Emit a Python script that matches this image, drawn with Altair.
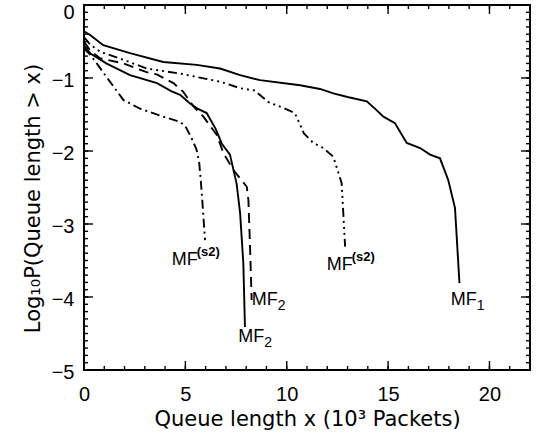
import altair as alt
import pandas as pd

# ---- data ----
mf1_x = [0.0, 0.3, 0.95, 2.27, 3.91, 5.56, 6.71, 7.70, 8.68, 10.66, 11.64, 12.30, 13.0, 13.95, 14.35, 14.77, 15.34, 15.92, 16.58, 17.07, 17.56, 17.97, 18.30, 18.52]
mf1_y = [-0.36, -0.41, -0.55, -0.66, -0.78, -0.82, -0.87, -0.96, -1.03, -1.10, -1.15, -1.21, -1.26, -1.32, -1.42, -1.53, -1.62, -1.89, -1.96, -2.05, -2.10, -2.40, -2.78, -3.81]

mfs2r_x = [0.0, 0.3, 0.79, 1.94, 3.09, 4.74, 6.71, 7.70, 8.40, 9.10, 10.0, 10.40, 10.85, 11.31, 11.81, 12.30, 12.55, 12.71, 12.79, 12.88]
mfs2r_y = [-0.44, -0.54, -0.64, -0.75, -0.87, -0.94, -1.05, -1.14, -1.17, -1.33, -1.43, -1.48, -1.76, -1.89, -1.96, -2.08, -2.30, -2.44, -2.85, -3.31]

mf2d_x = [0.0, 0.3, 0.79, 1.94, 3.09, 3.59, 4.41, 4.90, 5.40, 5.89, 6.55, 6.88, 7.37, 8.03, 8.11, 8.19, 8.27]
mf2d_y = [-0.50, -0.62, -0.73, -0.80, -0.92, -0.95, -1.07, -1.19, -1.39, -1.53, -1.78, -2.03, -2.26, -2.49, -2.67, -3.31, -4.04]

mf2s_x = [0.0, 0.3, 1.1, 2.27, 3.6, 4.3, 4.74, 5.23, 5.6, 6.05, 6.5, 6.8, 7.2, 7.53, 7.70, 7.86, 7.94]
mf2s_y = [-0.55, -0.66, -0.80, -0.96, -1.07, -1.18, -1.23, -1.35, -1.42, -1.48, -1.70, -1.90, -2.05, -2.45, -2.85, -3.54, -4.41]

mfs2l_x = [0.0, 0.3, 0.63, 1.28, 1.94, 2.76, 3.91, 4.74, 5.0, 5.30, 5.55, 5.68, 5.76, 5.84, 5.91, 5.97]
mfs2l_y = [-0.60, -0.68, -0.80, -1.05, -1.30, -1.42, -1.53, -1.60, -1.66, -1.82, -1.98, -2.15, -2.40, -2.70, -2.98, -3.22]

# curve labels: anchor (x, y) of base text "MF", then the sub/superscript
label_x = [4.33, 11.97, 8.27, 7.61, 18.09]
label_y = [-3.56, -3.63, -4.11, -4.61, -4.11]
label_base = ["MF", "MF", "MF", "MF", "MF"]
label_suffix = ["(s2)", "(s2)", "2", "2", "1"]
label_kind = ["sup", "sup", "sub", "sub", "sub"]

x_major = [0, 5, 10, 15, 20]
x_minor = list(range(0, 23))
y_major = [-5, -4, -3, -2, -1, 0]
y_minor = [round(-5 + 0.1 * i, 1) for i in range(51)]

W, H = 446, 365
FONT = "Liberation Sans"
TFONT = "DejaVu Sans"

xs = alt.Scale(domain=[0, 22], nice=False, zero=False)
ys = alt.Scale(domain=[-5, 0], nice=False, zero=False)

X_AX = alt.Axis(values=x_major, ticks=False, domain=False, grid=False,
                labelFont=FONT, labelFontSize=20, labelColor="black",
                labelPadding=14, labelFlush=False,
                titleFont=TFONT, titleFontSize=21, titleFontWeight="normal",
                titleColor="black", titlePadding=4)
Y_AX = alt.Axis(values=y_major, ticks=False, domain=False, grid=False,
                labelFont=FONT, labelFontSize=20, labelColor="black",
                labelPadding=10, labelFlush=False,
                labelOffset=alt.condition("datum.value == 0", alt.value(7), alt.value(2)),
                titleFont=TFONT, titleFontSize=21, titleFontWeight="normal",
                titleColor="black", titlePadding=8, titleY=193)
X_TITLE = "Queue length x (10³ Packets)"
Y_TITLE = "Log₁₀P(Queue length > x)"


def X(field="x"):
    return alt.X(f"{field}:Q", scale=xs, axis=X_AX, title=X_TITLE)


def Y(field="y"):
    return alt.Y(f"{field}:Q", scale=ys, axis=Y_AX, title=Y_TITLE)


def series(xv, yv):
    return pd.DataFrame({"x": xv, "y": yv, "i": list(range(len(xv)))})


def line(xv, yv, dash=None):
    kw = dict(color="black", strokeWidth=1.9, clip=True)
    if dash:
        kw["strokeDash"] = dash
    return alt.Chart(series(xv, yv)).mark_line(**kw).encode(
        x=X(), y=Y(), order="i:Q")


def xticks(vals, length, top):
    df = pd.DataFrame({"x": vals})
    if top:
        yy, yy2 = alt.value(0), alt.value(length)
    else:
        yy, yy2 = alt.value(H), alt.value(H - length)
    return alt.Chart(df).mark_rule(color="black", strokeWidth=1.4).encode(
        x=X(), y=yy, y2=yy2)


def yticks(vals, length, right):
    df = pd.DataFrame({"y": vals})
    if right:
        xx, xx2 = alt.value(W), alt.value(W - length)
    else:
        xx, xx2 = alt.value(0), alt.value(length)
    return alt.Chart(df).mark_rule(color="black", strokeWidth=1.4).encode(
        y=Y(), x=xx, x2=xx2)


lab = pd.DataFrame({"x": label_x, "y": label_y, "base": label_base,
                    "suffix": label_suffix, "kind": label_kind})

base_text = alt.Chart(lab).mark_text(
    font=FONT, fontSize=18, align="left", baseline="alphabetic", color="black"
).encode(x=X(), y=Y(), text="base:N")

sup_text = alt.Chart(lab).transform_filter("datum.kind == 'sup'").mark_text(
    font=FONT, fontSize=13, fontWeight="bold", align="left", baseline="alphabetic",
    color="black", dx=25, dy=-9
).encode(x=X(), y=Y(), text="suffix:N")

sub_text = alt.Chart(lab).transform_filter("datum.kind == 'sub'").mark_text(
    font=FONT, fontSize=14, align="left", baseline="alphabetic",
    color="black", dx=26, dy=5
).encode(x=X(), y=Y(), text="suffix:N")

chart = alt.layer(
    line(mf1_x, mf1_y),
    line(mfs2r_x, mfs2r_y, [9, 4, 2, 4, 2, 4, 2, 4]),
    line(mf2d_x, mf2d_y, [10, 6]),
    line(mf2s_x, mf2s_y),
    line(mfs2l_x, mfs2l_y, [9, 4, 2, 4]),
    xticks(x_major, 9, False), xticks(x_minor, 4, False),
    xticks(x_major, 9, True), xticks(x_minor, 4, True),
    yticks(y_major, 9, False), yticks(y_minor, 4, False),
    yticks(y_major, 9, True), yticks(y_minor, 4, True),
    base_text, sup_text, sub_text,
).properties(
    width=W, height=H,
    autosize=alt.AutoSizeParams(type="none"),
    padding={"left": 84, "top": 5, "right": 6, "bottom": 73},
    background="white",
).configure_view(stroke="black", strokeWidth=2)

chart.save("out.html", embed_options={"renderer": "svg", "actions": False})
